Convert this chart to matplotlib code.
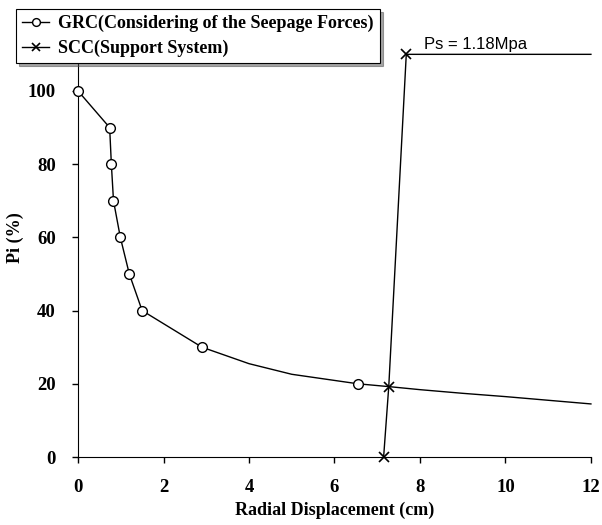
import numpy as np
import matplotlib
matplotlib.use('Agg')
import matplotlib.pyplot as plt

# GRC curve (marked points first, then the unmarked tail)
grc_x = [0, 0.74, 0.78, 0.83, 0.99, 1.2, 1.5, 2.9, 4.0, 5.0, 6.55, 7.3, 8.0, 9.0, 10.0, 11.0, 12.0]
grc_y = [100, 90, 80, 70, 60, 50, 40, 30, 25.5, 22.6, 20, 19.2, 18.4, 17.4, 16.5, 15.5, 14.5]
grc_marked = [0, 1, 2, 3, 4, 5, 6, 7, 10]

# SCC support line
scc_x = [7.15, 7.27, 7.68, 12.0]
scc_y = [0, 19.2, 110, 110]
scc_marked = [0, 1, 2]

serif = 'Liberation Serif'

fig = plt.figure(figsize=(6.02, 5.25), dpi=100)
ax = fig.add_axes([0.1296, 0.1295, 0.852, 0.767])

ax.plot(grc_x, grc_y, color='black', lw=1.0, marker='o', markersize=7,
        markerfacecolor='white', markeredgecolor='black', markevery=grc_marked,
        label='GRC(Considering of the Seepage Forces)', clip_on=False, zorder=3)
ax.plot(scc_x, scc_y, color='black', lw=1.0, marker='x', markersize=7,
        markeredgewidth=1.2, markevery=scc_marked,
        label='SCC(Support System)', clip_on=False, zorder=3)

ax.text(8.1, 111.5, 'Ps = 1.18Mpa', fontsize=12, family='Liberation Sans')

ax.set_xlim(0, 12)
ax.set_ylim(0, 110)
ax.set_xticks(range(0, 13, 2))
ax.set_yticks(range(0, 101, 20))
for s in ['top', 'right']:
    ax.spines[s].set_visible(False)
ax.tick_params(direction='out', length=4, width=1)
ax.tick_params(axis='x', pad=12)
ax.tick_params(axis='y', pad=12)
for lab in ax.get_xticklabels() + ax.get_yticklabels():
    lab.set_family(serif)
    lab.set_fontweight('bold')
    lab.set_fontsize(13.5)

ax.set_xlabel('Radial Displacement (cm)', family=serif, fontweight='bold', fontsize=13, labelpad=4)
ax.set_ylabel('Pi (%)', family=serif, fontweight='bold', fontsize=13)
ax.yaxis.set_label_coords(-0.105, 0.545)

leg = ax.legend(loc='upper left', bbox_to_anchor=(-0.121, 1.113), borderaxespad=0,
                frameon=True, fancybox=False, shadow=True, edgecolor='black',
                handlelength=1.5, handletextpad=0.5, borderpad=0.35, labelspacing=0.4,
                markerscale=0.8, prop={'family': serif, 'weight': 'bold', 'size': 13})
leg.get_frame().set_linewidth(0.8)

fig.savefig('out.png', dpi=100)
